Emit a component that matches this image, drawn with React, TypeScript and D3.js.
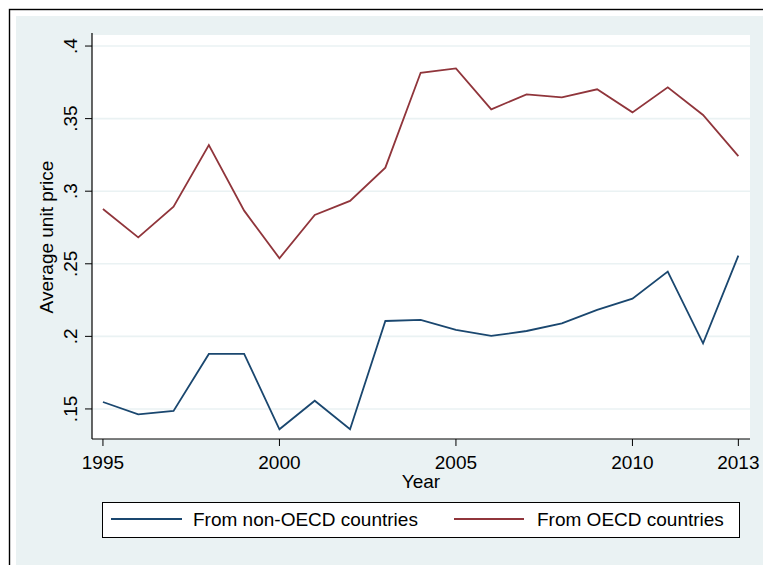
import React from "react";
import * as d3 from "d3";

const years = [1995,1996,1997,1998,1999,2000,2001,2002,2003,2004,2005,2006,2007,2008,2009,2010,2011,2012,2013];
const nonOECD = [0.1548,0.1463,0.1486,0.1879,0.1879,0.136,0.1557,0.136,0.2106,0.2113,0.2044,0.2003,0.2037,0.209,0.2182,0.226,0.2446,0.1952,0.2556];
const oecd = [0.2877,0.2682,0.2893,0.3318,0.2866,0.2538,0.2836,0.2933,0.3162,0.3816,0.3846,0.3564,0.3667,0.3647,0.3702,0.3543,0.3716,0.3525,0.3242];
const yTicks = [0.15,0.2,0.25,0.3,0.35,0.4];
const yTickLabels = [".15",".2",".25",".3",".35",".4"];
const xTicks = [1995,2000,2005,2010,2013];
const xTickLabels = ["1995","2000","2005","2010","2013"];
const seriesNames = ["From non-OECD countries","From OECD countries"];
const seriesColors = ["#1A476F","#90353B"];

const W = 763, H = 565;
const L = 92, R = 750, T = 35, B = 439;
const FONT = "'Liberation Sans', Arial, sans-serif";
const FS = 19;

export default function App() {
  const x = d3.scaleLinear().domain([1994.69, 2013.33]).range([L, R]);
  const y = d3.scaleLinear().domain([0.1293, 0.4076]).range([B, T]);
  const line = d3.line<number>().x((_, i) => x(years[i])).y(d => y(d));
  const series = [nonOECD, oecd];
  return (
    <svg width={W} height={H} style={{ position: "absolute", left: 0, top: 0 }} fontFamily={FONT}>
      <rect x={0} y={0} width={W} height={H} fill="#ffffff" />
      <rect x={9.5} y={9.5} width={W} height={H} fill="none" stroke="#000" strokeWidth={1.4} />
      <rect x={16} y={16} width={W - 16} height={H - 16} fill="#EAF2F3" />
      <rect x={L} y={T} width={R - L} height={B - T} fill="#ffffff" />
      {yTicks.map((t, i) => (
        <g key={i}>
          <line x1={L} x2={R} y1={y(t)} y2={y(t)} stroke="#EAF2F3" strokeWidth={1.6} />
          <line x1={L - 7} x2={L} y1={y(t)} y2={y(t)} stroke="#000" strokeWidth={1} />
          <text transform={`translate(77,${y(t)}) rotate(-90)`} textAnchor="middle" fontSize={FS} fill="#000">{yTickLabels[i]}</text>
        </g>
      ))}
      {xTicks.map((t, i) => (
        <g key={i}>
          <line x1={x(t)} x2={x(t)} y1={B} y2={B + 7} stroke="#000" strokeWidth={1} />
          <text x={x(t)} y={469} textAnchor="middle" fontSize={FS} fill="#000">{xTickLabels[i]}</text>
        </g>
      ))}
      <line x1={L} x2={L} y1={33} y2={B} stroke="#000" strokeWidth={1.2} />
      <line x1={L} x2={R} y1={B} y2={B} stroke="#000" strokeWidth={1.2} />
      {series.map((s, i) => (
        <path key={i} d={line(s) || ""} fill="none" stroke={seriesColors[i]} strokeWidth={1.8} strokeLinejoin="miter" />
      ))}
      <text transform={`translate(53,${(T + B) / 2}) rotate(-90)`} textAnchor="middle" fontSize={FS} fill="#000">Average unit price</text>
      <text x={421} y={488} textAnchor="middle" fontSize={FS} fill="#000">Year</text>
      <rect x={102.5} y={502.5} width={637} height={35} fill="#fff" stroke="#000" strokeWidth={1} />
      <line x1={111} x2={182} y1={519} y2={519} stroke={seriesColors[0]} strokeWidth={1.8} />
      <text x={193} y={526} fontSize={FS} fill="#000">{seriesNames[0]}</text>
      <line x1={454} x2={524} y1={519} y2={519} stroke={seriesColors[1]} strokeWidth={1.8} />
      <text x={537} y={526} fontSize={FS} fill="#000">{seriesNames[1]}</text>
    </svg>
  );
}
